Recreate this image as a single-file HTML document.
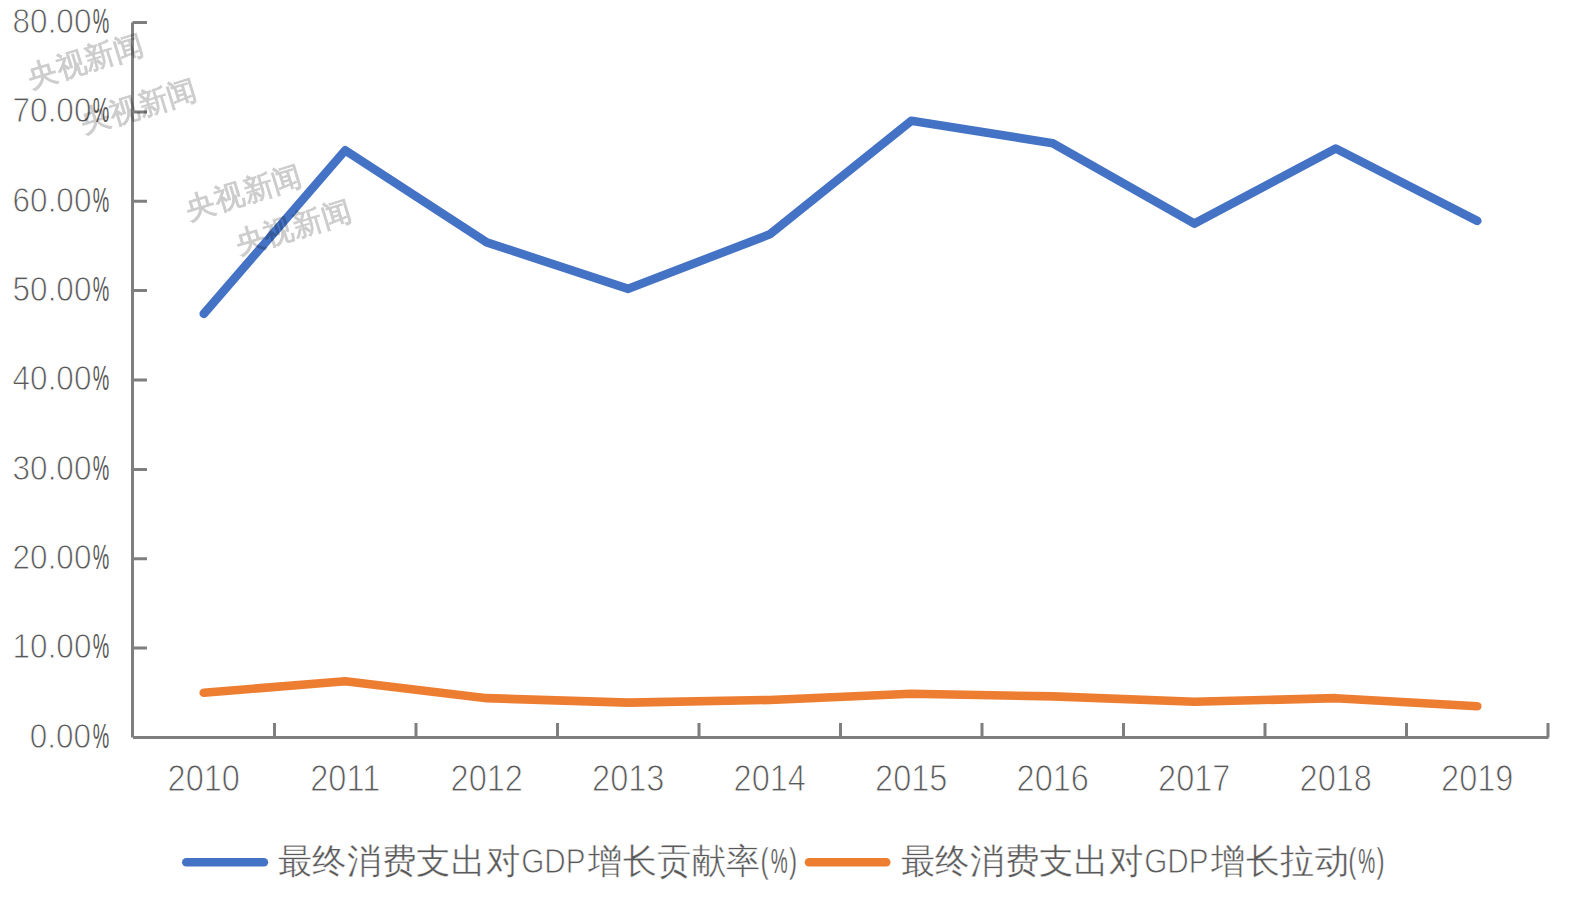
<!DOCTYPE html>
<html><head><meta charset="utf-8"><style>
html,body{margin:0;padding:0;background:#fff;}
body{width:1573px;height:898px;overflow:hidden;}
svg{display:block;}
#wrap{width:1573px;height:898px;}
text{font-family:"Liberation Sans",sans-serif;}
</style></head><body><div id="wrap">
<svg width="1573" height="898" viewBox="0 0 1573 898">
<rect width="1573" height="898" fill="#fff"/>
<g id="ylab" fill="#595959" font-size="35" stroke="#fff" stroke-width="0.9">
<text transform="translate(29.70,747.80) scale(0.9,1.01)">0.00</text><text transform="translate(92.87,747.80) scale(0.53,1.01)" stroke-width="0">%</text>
<text transform="translate(12.60,658.42) scale(0.9,1.01)">10.00</text><text transform="translate(92.87,658.42) scale(0.53,1.01)" stroke-width="0">%</text>
<text transform="translate(12.60,569.05) scale(0.9,1.01)">20.00</text><text transform="translate(92.87,569.05) scale(0.53,1.01)" stroke-width="0">%</text>
<text transform="translate(12.60,479.68) scale(0.9,1.01)">30.00</text><text transform="translate(92.87,479.68) scale(0.53,1.01)" stroke-width="0">%</text>
<text transform="translate(12.60,390.30) scale(0.9,1.01)">40.00</text><text transform="translate(92.87,390.30) scale(0.53,1.01)" stroke-width="0">%</text>
<text transform="translate(12.60,300.93) scale(0.9,1.01)">50.00</text><text transform="translate(92.87,300.93) scale(0.53,1.01)" stroke-width="0">%</text>
<text transform="translate(12.60,211.55) scale(0.9,1.01)">60.00</text><text transform="translate(92.87,211.55) scale(0.53,1.01)" stroke-width="0">%</text>
<text transform="translate(12.60,122.17) scale(0.9,1.01)">70.00</text><text transform="translate(92.87,122.17) scale(0.53,1.01)" stroke-width="0">%</text>
<text transform="translate(12.60,32.80) scale(0.9,1.01)">80.00</text><text transform="translate(92.87,32.80) scale(0.53,1.01)" stroke-width="0">%</text>
</g>
<g id="xlab" fill="#595959" font-size="35" stroke="#fff" stroke-width="0.9">
<text transform="translate(203.75,790.8) scale(0.93,1.03)" text-anchor="middle">2010</text>
<text transform="translate(345.25,790.8) scale(0.93,1.03)" text-anchor="middle">2011</text>
<text transform="translate(486.75,790.8) scale(0.93,1.03)" text-anchor="middle">2012</text>
<text transform="translate(628.25,790.8) scale(0.93,1.03)" text-anchor="middle">2013</text>
<text transform="translate(769.75,790.8) scale(0.93,1.03)" text-anchor="middle">2014</text>
<text transform="translate(911.25,790.8) scale(0.93,1.03)" text-anchor="middle">2015</text>
<text transform="translate(1052.75,790.8) scale(0.93,1.03)" text-anchor="middle">2016</text>
<text transform="translate(1194.25,790.8) scale(0.93,1.03)" text-anchor="middle">2017</text>
<text transform="translate(1335.75,790.8) scale(0.93,1.03)" text-anchor="middle">2018</text>
<text transform="translate(1477.25,790.8) scale(0.93,1.03)" text-anchor="middle">2019</text>
</g>
<path id="yax" d="M132.5 22.5V737.5 M132.5 648.12H147 M132.5 558.75H147 M132.5 469.38H147 M132.5 380.00H147 M132.5 290.62H147 M132.5 201.25H147 M132.5 111.88H147 M132.5 22.50H147 " stroke="#7f7f7f" stroke-width="3" fill="none"/>
<path id="xax" d="M133 737.5H1548.5 M274.50 737.5V723 M416.00 737.5V723 M557.50 737.5V723 M699.00 737.5V723 M840.50 737.5V723 M982.00 737.5V723 M1123.50 737.5V723 M1265.00 737.5V723 M1406.50 737.5V723 M1548.00 737.5V723 " stroke="#7f7f7f" stroke-width="3" fill="none"/>
<polyline id="orange" points="203.75,692.81 345.25,681.19 486.75,698.17 628.25,702.64 769.75,699.96 911.25,693.71 1052.75,696.39 1194.25,701.75 1335.75,698.17 1477.25,706.22" fill="none" stroke="#ED7D31" stroke-width="8.6" stroke-linecap="round" stroke-linejoin="round"/>
<polyline id="blue" points="203.75,313.86 345.25,150.31 486.75,242.36 628.25,288.84 769.75,234.32 911.25,120.81 1052.75,143.16 1194.25,223.59 1335.75,148.52 1477.25,220.91" fill="none" stroke="#4472C4" stroke-width="8.6" stroke-linecap="round" stroke-linejoin="round"/>
<path id="lb" d="M186.3 862.2H263.9" stroke="#4472C4" stroke-width="8.6" stroke-linecap="round"/>
<path id="lo" d="M809 862.2H886.2" stroke="#ED7D31" stroke-width="8.6" stroke-linecap="round"/>
<g id="leg" fill="#595959" font-size="35" stroke="#fff" stroke-width="0.9">
<text transform="translate(277.60,872.5) scale(0.984,1)" stroke-width="0.4">最终消费支出对</text><text transform="translate(521.20,872.5) scale(0.849,1)">GDP</text><text transform="translate(588.10,872.5) scale(0.975,1)" stroke-width="0.4">增长贡献率</text><text transform="translate(760.60,872.5) scale(0.7,1)" stroke-width="0.4">(</text><text transform="translate(770.65,872.5) scale(0.545,1)" stroke-width="0.2">%</text><text transform="translate(789.00,872.5) scale(0.7,1)" stroke-width="0.4">)</text>
<text transform="translate(900.60,872.5) scale(0.984,1)" stroke-width="0.4">最终消费支出对</text><text transform="translate(1144.20,872.5) scale(0.849,1)">GDP</text><text transform="translate(1211.10,872.5) scale(0.975,1)" stroke-width="0.4">增长拉动</text><text transform="translate(1348.20,872.5) scale(0.7,1)" stroke-width="0.4">(</text><text transform="translate(1358.25,872.5) scale(0.545,1)" stroke-width="0.2">%</text><text transform="translate(1376.60,872.5) scale(0.7,1)" stroke-width="0.4">)</text>
</g>
<g id="wm" fill="#000" stroke="#000" stroke-width="0.9" opacity="0.2" font-size="29.8">
<text id="wm0" transform="translate(30.9,88.0) rotate(-17)">央视新闻</text>
<text id="wm1" transform="translate(84.3,133.4) rotate(-17)">央视新闻</text>
<text id="wm2" transform="translate(189.2,219.7) rotate(-17)">央视新闻</text>
<text id="wm3" transform="translate(238.6,254.39999999999998) rotate(-17)">央视新闻</text>
</g>
</svg></div>
</body></html>
